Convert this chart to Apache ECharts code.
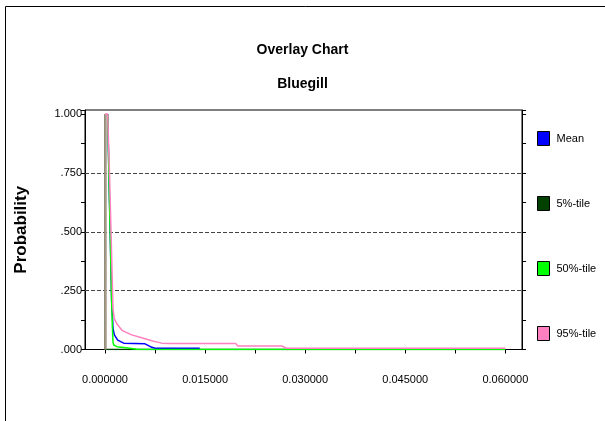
<!DOCTYPE html>
<html><head><meta charset="utf-8">
<script src="https://cdn.jsdelivr.net/npm/echarts@6/dist/echarts.min.js"></script>
<style>html,body{margin:0;padding:0;background:#fff}#c{width:605px;height:421px}</style>
</head><body><div id="c"></div>
<script>
const seriesNames = ['Mean', '5%-tile', '50%-tile', '95%-tile'];
const seriesColors = ['#0000ff', '#004000', '#00ff00', '#ff80c0'];
const xTickLabels = ['0.000000', '0.015000', '0.030000', '0.045000', '0.060000'];
const yTickLabels = ['.000', '.250', '.500', '.750', '1.000'];

const meanData = [[0.0004,1],[0.0006,0.72],[0.001,0.2],[0.0012,0.09],[0.0014,0.062],[0.0019,0.04],[0.0028,0.027],[0.006,0.024],[0.0068,0.012],[0.0075,0.005],[0.0142,0.005]];
const p5Data = [[0,1],[0,0],[0.06,0]];
const p50Data = [[0.0004,1],[0.0006,0.72],[0.001,0.2],[0.0011,0.1],[0.0012,0.03],[0.0013,0.019],[0.0018,0.012],[0.0037,0.005],[0.005,0],[0.06,0]];
const p95Data = [[0,1],[0.0004,1],[0.0007,0.72],[0.0012,0.17],[0.0014,0.13],[0.0018,0.108],[0.0026,0.08],[0.004,0.062],[0.0055,0.05],[0.007,0.037],[0.0085,0.027],[0.0098,0.025],[0.0196,0.025],[0.0199,0.015],[0.0265,0.015],[0.0272,0.0055],[0.0600,0.0055]];
const allData = [meanData, p5Data, p50Data, p95Data];
const seriesZ = [3, 2, 4, 5];

const chart = echarts.init(document.getElementById('c'));
const font = 'Liberation Sans, Arial, sans-serif';
chart.setOption({
  animation: false,
  title: [
    {text: 'Overlay Chart', left: 'center', top: 38, textStyle: {fontFamily: font, fontSize: 14, fontWeight: 'bold', color: '#000'}},
    {text: 'Bluegill', left: 'center', top: 72, textStyle: {fontFamily: font, fontSize: 14, fontWeight: 'bold', color: '#000'}}
  ],
  graphic: [{type: 'rect', shape: {x: 5.5, y: 6.5, width: 700, height: 500}, style: {fill: 'none', stroke: '#000', lineWidth: 1}, silent: true}],
  legend: {
    orient: 'vertical', left: 532, top: 126, itemGap: 50, itemWidth: 12, itemHeight: 14, icon: 'rect',
    data: seriesNames,
    textStyle: {fontFamily: font, fontSize: 11, color: '#000', padding: [0,0,0,2]},
    itemStyle: {borderColor: '#000', borderWidth: 1}
  },
  grid: {left: 85, right: 83, top: 110, bottom: 71.5, containLabel: false, show: true, borderColor: '#000', borderWidth: 1},
  xAxis: {
    type: 'value', min: -0.003, max: 0.0625, interval: 0.0075,
    axisLine: {show: true, onZero: false, lineStyle: {color: '#000'}},
    splitLine: {show: false},
    axisLabel: {
      margin: 25, fontFamily: font, fontSize: 11, color: '#000',
      customValues: [0, 0.015, 0.03, 0.045, 0.06],
      formatter: (v) => { const i = Math.round(v / 0.015); return (Math.abs(v - i*0.015) < 1e-9 && i >= 0 && i < xTickLabels.length) ? xTickLabels[i] : ''; }
    },
    axisTick: {show: true, length: 4, lineStyle: {color: '#000'}, customValues: [0,0.0075,0.015,0.0225,0.03,0.0375,0.045,0.0525,0.06]}
  },
  yAxis: [{
    type: 'value', min: 0, max: 1.017, interval: 0.125,
    name: 'Probability', nameLocation: 'middle', nameGap: 55, nameRotate: 90,
    nameTextStyle: {fontFamily: font, fontSize: 17, fontWeight: 'bold', color: '#000', letterSpacing: 3},
    axisLine: {show: true, onZero: false, lineStyle: {color: '#000'}},
    axisTick: {show: true, length: 4, lineStyle: {color: '#000'}},
    axisLabel: {
      fontFamily: font, fontSize: 11, color: '#000', margin: 3, showMaxLabel: true,
      customValues: [0, 0.25, 0.5, 0.75, 1],
      formatter: (v) => { const i = Math.round(v / 0.25); return (Math.abs(v - i*0.25) < 1e-9 && i < yTickLabels.length) ? yTickLabels[i] : ''; }
    },
    splitLine: {show: false}
  }, {
    type: 'value', min: 0, max: 1.017, interval: 0.125, position: 'right',
    axisLine: {show: true, onZero: false, lineStyle: {color: '#000'}},
    axisTick: {show: true, length: 4, lineStyle: {color: '#000'}},
    axisLabel: {show: false}, splitLine: {show: false}
  }],
  series: seriesNames.map((n, i) => ({
    name: n, type: 'line', data: allData[i], showSymbol: false, symbol: 'none',
    itemStyle: {color: seriesColors[i]},
    lineStyle: {color: seriesColors[i], width: 1.5},
    z: seriesZ[i],
    markLine: i === 0 ? {
      silent: true, symbol: 'none', label: {show: false}, animation: false, z: 1,
      lineStyle: {color: '#444', type: [4, 2], width: 1.2},
      data: [{yAxis: 0.25}, {yAxis: 0.5}, {yAxis: 0.75}]
    } : (i === 1 ? {
      silent: true, symbol: 'none', label: {show: false}, animation: false, z: 2.5,
      lineStyle: {color: '#a89a8a', type: 'solid', width: 2.5},
      data: [[{coord: [0, 0]}, {coord: [0, 1]}]]
    } : undefined)
  }))
});
</script></body></html>
